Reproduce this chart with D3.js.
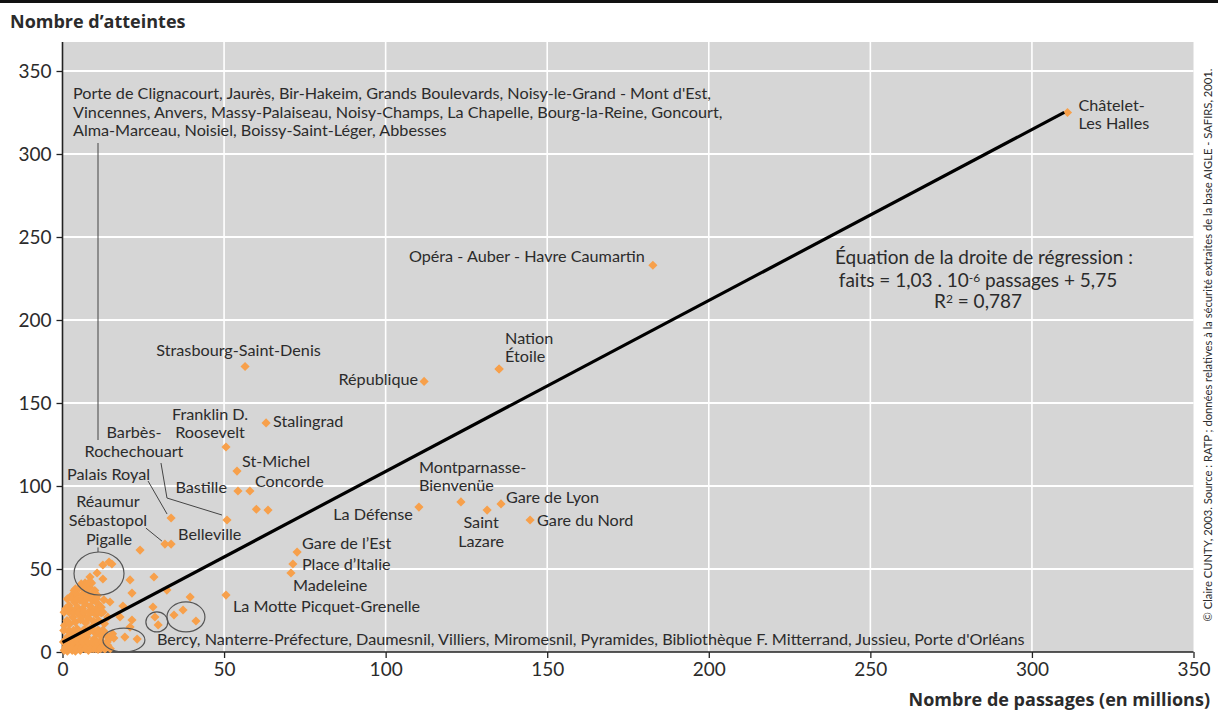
<!DOCTYPE html>
<html>
<head>
<meta charset="utf-8">
<script src="https://cdn.jsdelivr.net/npm/d3@7"></script>
<style>
  html, body { margin: 0; padding: 0; background: #fff; }
  svg { display: block; font-family: "Lato", "Open Sans", sans-serif; }
</style>
</head>
<body>
<svg id="chart" width="1218" height="713"></svg>
<script>
// Stations RATP : nombre de passages annuels (millions) et nombre d'atteintes
const stationNames = [
  "Châtelet-Les Halles", "Opéra - Auber - Havre Caumartin", "Nation", "Étoile",
  "République", "Strasbourg-Saint-Denis", "Stalingrad", "Franklin D. Roosevelt",
  "St-Michel", "Bastille", "Concorde", "Barbès-Rochechouart", "Palais Royal",
  "Réaumur-Sébastopol", "Belleville", "La Défense", "Montparnasse-Bienvenüe",
  "Saint-Lazare", "Gare de Lyon", "Gare du Nord", "Gare de l'Est",
  "Place d'Italie", "Madeleine", "La Motte-Picquet-Grenelle"
];
const stationPassages = [
  311, 182.7, 135.1, 135.1,
  111.9, 56.5, 63, 50.6,
  54, 54.3, 58, 50.9, 33.6,
  31.7, 33.6, 110.3, 123.3,
  131.4, 135.7, 144.7, 72.6,
  71.3, 70.7, 50.6
];
const stationAtteintes = [
  325, 233, 170.5, 170.5,
  163, 172, 138, 123.5,
  109, 97, 97, 79.5, 80.7,
  65, 65, 87.3, 90.4,
  85.5, 89.2, 79.5, 60.2,
  53, 47.6, 34.3
];

// Autres stations (non nommées individuellement)
const otherPassages = [
  60, 63.6, 24, 20.9, 28.3, 21.5, 39.5, 32.3, 14.7, 28, 28.6, 29.6, 34.5, 37.3, 41.3,
  15.9, 19.3, 23.1, 21.5, 20.9, 17.8, 18.7, 12.5, 14.4, 15.3, 10.7, 8.5, 12.5, 7,
  0.5, 1, 1.5, 2, 2.5, 3, 3.5, 4, 4.5, 5, 5.5, 6, 6.5, 7, 7.5, 8, 8.5, 9, 9.5, 10, 11, 11.5, 12, 13, 14,
  0.8, 1.5, 2.2, 3, 3.8, 4.5, 5.2, 6, 6.8, 7.5, 8.2, 9, 9.8, 10.5, 11.2, 12, 12.8, 13.5, 14.5, 15.5,
  0.6, 1.4, 2.3, 3.2, 4, 4.8, 5.6, 6.4, 7.2, 8, 8.8, 9.6, 10.4, 11.2, 12, 13, 14,
  1, 2, 3, 3.8, 4.6, 5.4, 6.2, 7, 7.8, 8.6, 9.4, 10.2, 11, 12, 12.8,
  2.8, 3.6, 4.4, 5.2, 6, 6.8, 7.6, 8.4, 9.2, 10, 10.8, 5.8, 7.2, 9,
  1.2, 2.8, 4.2, 5.8, 7.2, 8.8, 10.2, 11.8, 13.2, 14.8,
  0.3, 1.8, 3.3, 4.8, 6.3, 7.8, 9.3, 10.8, 12.3, 13.8,
  0.4, 1.9, 3.4, 4.9, 6.4, 7.9, 9.4, 10.9, 12.4,
  0.5, 2, 3.5, 5, 6.5, 8, 9.5, 11, 12.5,
  1.5, 3, 4.5, 6, 7.5, 9, 10.5, 4, 6.5, 8.5
];
const otherAtteintes = [
  86, 85.5, 61.4, 43.4, 45.2, 35.5, 33.1, 37.3, 30.1, 27.1, 21.1, 16.3, 22.3, 25.3, 18.7,
  8.4, 9, 7.8, 19.3, 15, 21.1, 27.7, 52.4, 54.2, 53, 47.6, 45.2, 44, 41.6,
  1, 3, 0.5, 2, 5, 1, 3.5, 0.5, 2.5, 4, 1, 3, 6, 2, 4.5, 1, 3, 5.5, 2, 4, 1.5, 6, 3, 2, 4,
  7, 9, 12, 8, 10.5, 14, 8.5, 11, 13.5, 9, 12, 15, 8, 11, 13, 9.5, 12.5, 10, 8, 11,
  16, 19, 17, 21, 18, 23, 19.5, 22, 17.5, 20.5, 24, 18.5, 22.5, 19, 23.5, 17, 21,
  26, 28, 25, 30, 27, 31, 26, 29, 33, 27.5, 31, 25.5, 29, 27, 31.5,
  34, 37, 35, 38.5, 34.5, 37.5, 36, 39, 35, 37, 34, 41, 40.5, 41.5,
  2, 2, 2, 2, 2, 2, 2, 2, 2, 2,
  6, 6, 6, 6, 6, 6, 6, 6, 6, 6,
  13, 13, 13, 13, 13, 13, 13, 13, 13,
  24, 24, 24, 24, 24, 24, 24, 24, 24,
  32, 32, 32, 32, 32, 32, 32, 38, 39, 42.5
];

// Droite de régression : faits = 1,03 . 10^-6 passages + 5,75
const regSlope = 1.03;
const regIntercept = 5.75;
const regExtent = [0, 310];

const xTicks = [0, 50, 100, 150, 200, 250, 300, 350];
const yTicks = [0, 50, 100, 150, 200, 250, 300, 350];

const groupTopLines = [
  "Porte de Clignacourt, Jaurès, Bir-Hakeim, Grands Boulevards, Noisy-le-Grand - Mont d'Est,",
  "Vincennes, Anvers, Massy-Palaiseau, Noisy-Champs, La Chapelle, Bourg-la-Reine, Goncourt,",
  "Alma-Marceau, Noisiel, Boissy-Saint-Léger, Abbesses"
];
const groupBottomText = "Bercy, Nanterre-Préfecture, Daumesnil, Villiers, Miromesnil, Pyramides, Bibliothèque F. Mitterrand, Jussieu, Porte d'Orléans";
const equationLines = ["Équation de la droite de régression :", "faits = 1,03 . 10", "-6", " passages + 5,75", "R", "2", " = 0,787"];
const yTitle = "Nombre d’atteintes";
const xTitle = "Nombre de passages (en millions)";
const sourceText = "© Claire CUNTY, 2003. Source : RATP ; données relatives à la sécurité extraites de la base AIGLE - SAFIRS, 2001.";

// ---------- mise en page ----------
const svg = d3.select("#chart");
const textColor = "#2b2b2b";
const orange = "#f7a04b";
const fs = 16.2, lh = 18.5;

const x = d3.scaleLinear().domain([0, 350]).range([62.5, 1193.5]);
const y = d3.scaleLinear().domain([0, 350]).range([652, 71]);
const plotTop = 42;

// filet noir en haut
svg.append("rect").attr("x", 0).attr("y", 0).attr("width", 1218).attr("height", 3).attr("fill", "#111");

// fond gris
svg.append("rect")
  .attr("x", x(0)).attr("y", plotTop)
  .attr("width", x(350) - x(0)).attr("height", y(0) - plotTop)
  .attr("fill", "#d6d6d6");

// grille
svg.append("g").selectAll("line").data(xTicks.filter(d => d > 0 && d < 350)).join("line")
  .attr("x1", d => x(d)).attr("x2", d => x(d))
  .attr("y1", plotTop).attr("y2", y(0))
  .attr("stroke", "#fff").attr("stroke-width", 1.6);
svg.append("g").selectAll("line").data(yTicks.filter(d => d > 0)).join("line")
  .attr("x1", x(0)).attr("x2", x(350))
  .attr("y1", d => y(d)).attr("y2", d => y(d))
  .attr("stroke", "#fff").attr("stroke-width", 2.2);

// axes
const xAxis = svg.append("g").attr("transform", `translate(0,${y(0)})`)
  .call(d3.axisBottom(x).tickValues(xTicks).tickSize(6).tickPadding(5).tickSizeOuter(0));
const yAxis = svg.append("g").attr("transform", `translate(${x(0)},0)`)
  .call(d3.axisLeft(y).tickValues(yTicks).tickSize(6).tickPadding(5).tickSizeOuter(0));
[xAxis, yAxis].forEach(a => {
  a.select(".domain").remove();
  a.selectAll("line").attr("stroke", "#222").attr("stroke-width", 1.3);
  a.selectAll("text").attr("fill", textColor).attr("font-size", 19).attr("font-family", "Lato, sans-serif");
});
svg.append("line").attr("x1", x(0)).attr("x2", x(0)).attr("y1", plotTop).attr("y2", y(0) + 1)
  .attr("stroke", "#222").attr("stroke-width", 1.6);
svg.append("line").attr("x1", x(0) - 1).attr("x2", x(350)).attr("y1", y(0)).attr("y2", y(0))
  .attr("stroke", "#222").attr("stroke-width", 1.6);

// titres d'axes
svg.append("text").attr("x", 10).attr("y", 28).text(yTitle)
  .attr("font-family", "'Open Sans', sans-serif")
  .attr("font-weight", "bold").attr("font-size", 18).attr("fill", textColor);
svg.append("text").attr("x", 1210).attr("y", 706).attr("text-anchor", "end").text(xTitle)
  .attr("font-family", "'Open Sans', sans-serif")
  .attr("font-weight", "bold").attr("font-size", 18).attr("fill", textColor);

// source verticale
svg.append("text")
  .attr("transform", "translate(1212,345) rotate(-90)")
  .attr("text-anchor", "middle")
  .attr("font-size", 12).attr("fill", textColor)
  .attr("textLength", 553).attr("lengthAdjust", "spacingAndGlyphs")
  .text(sourceText);

// points
const diamond = d3.symbol().type(d3.symbolSquare).size(42);
const others = otherPassages.map((p, i) => ({ p, a: otherAtteintes[i] }));
const named = stationNames.map((n, i) => ({ name: n, p: stationPassages[i], a: stationAtteintes[i] }));
svg.append("g").selectAll("path").data(others.concat(named)).join("path")
  .attr("d", diamond)
  .attr("transform", d => `translate(${x(d.p)},${y(d.a)}) rotate(45)`)
  .attr("fill", orange);

// droite de régression
svg.append("line")
  .attr("x1", x(regExtent[0])).attr("y1", y(regSlope * regExtent[0] + regIntercept))
  .attr("x2", x(regExtent[1])).attr("y2", y(regSlope * regExtent[1] + regIntercept))
  .attr("stroke", "#000").attr("stroke-width", 3.2);

// anneaux de regroupement (centre en données, rayons en pixels)
const rings = [
  { p: 11.3, a: 47.3, rx: 25, ry: 21.5 },
  { p: 29.2, a: 18.1, rx: 11, ry: 10 },
  { p: 38.2, a: 21.1, rx: 19, ry: 15 },
  { p: 19, a: 7.2, rx: 21, ry: 12 }
];
svg.append("g").selectAll("ellipse").data(rings).join("ellipse")
  .attr("cx", d => x(d.p)).attr("cy", d => y(d.a))
  .attr("rx", d => d.rx).attr("ry", d => d.ry)
  .attr("fill", "none").attr("stroke", "#555").attr("stroke-width", 1.2);

// étiquettes des stations
const layout = {
  "Châtelet-Les Halles": { lines: ["Châtelet-", "Les Halles"], dx: 11, dy: -2 },
  "Opéra - Auber - Havre Caumartin": { lines: ["Opéra - Auber - Havre Caumartin"], dx: -8, dy: -3, anchor: "end" },
  "Nation": { lines: ["Nation"], dx: 6, dy: -25 },
  "Étoile": { lines: ["Étoile"], dx: 6, dy: -6.5 },
  "République": { lines: ["République"], dx: -6, dy: 4, anchor: "end" },
  "Strasbourg-Saint-Denis": { lines: ["Strasbourg-Saint-Denis"], dx: -6.5, dy: -10, anchor: "middle" },
  "Stalingrad": { lines: ["Stalingrad"], dx: 7, dy: 4 },
  "Franklin D. Roosevelt": { lines: ["Franklin D.", "Roosevelt"], dx: -16, dy: -27, anchor: "middle" },
  "St-Michel": { lines: ["St-Michel"], dx: 5, dy: -4 },
  "Concorde": { lines: ["Concorde"], dx: 5, dy: -4 },
  "Bastille": { lines: ["Bastille"], dx: -11, dy: 2, anchor: "end" },
  "Barbès-Rochechouart": { lines: ["Barbès-", "Rochechouart"], dx: -93, dy: -82, anchor: "middle",
    leader: [[-66, -57], [-60, -22], [-5, -5]] },
  "Palais Royal": { lines: ["Palais Royal"], dx: -21, dy: -38, anchor: "end",
    leader: [[-23, -37], [-4, -4]] },
  "Réaumur-Sébastopol": { lines: ["Réaumur", "Sébastopol"], dx: -57, dy: -37, anchor: "middle",
    leader: [[-19, -16], [-3, -3]] },
  "Belleville": { lines: ["Belleville"], dx: 7, dy: -4 },
  "La Défense": { lines: ["La Défense"], dx: -6, dy: 13, anchor: "end" },
  "Montparnasse-Bienvenüe": { lines: ["Montparnasse-", "Bienvenüe"], dx: -42, dy: -29 },
  "Saint-Lazare": { lines: ["Saint", "Lazare"], dx: -6, dy: 18, anchor: "middle" },
  "Gare de Lyon": { lines: ["Gare de Lyon"], dx: 5, dy: -1 },
  "Gare du Nord": { lines: ["Gare du Nord"], dx: 7, dy: 6 },
  "Gare de l'Est": { lines: ["Gare de l’Est"], dx: 5, dy: -3 },
  "Place d'Italie": { lines: ["Place d’Italie"], dx: 9, dy: 6 },
  "Madeleine": { lines: ["Madeleine"], dx: 2, dy: 18 },
  "La Motte-Picquet-Grenelle": { lines: ["La Motte Picquet-Grenelle"], dx: 7, dy: 17 }
};

const labels = svg.append("g").attr("font-size", fs).attr("fill", textColor);
const leaders = svg.append("g").attr("stroke", "#444").attr("stroke-width", 1).attr("fill", "none");
named.forEach(d => {
  const L = layout[d.name];
  if (!L) return;
  const px = x(d.p), py = y(d.a);
  const t = labels.append("text").attr("text-anchor", L.anchor || "start");
  L.lines.forEach((ln, i) => {
    t.append("tspan").attr("x", px + L.dx).attr("y", py + L.dy + i * lh).text(ln);
  });
  if (L.leader) {
    leaders.append("path").attr("d", d3.line()(L.leader.map(o => [px + o[0], py + o[1]])));
  }
});

// groupe du haut (stations du nuage près de l'origine)
const gTop = labels.append("text");
groupTopLines.forEach((ln, i) => {
  gTop.append("tspan").attr("x", x(3.25)).attr("y", 99 + i * lh).text(ln);
});
leaders.append("line").attr("x1", 98).attr("x2", 98).attr("y1", 143).attr("y2", 440);

// Pigalle
const pig = rings[0];
labels.append("text").attr("text-anchor", "middle")
  .attr("x", x(pig.p) + 10).attr("y", y(pig.a) - 28).text("Pigalle");
leaders.append("line").attr("x1", x(pig.p) - 1).attr("x2", x(pig.p) - 1)
  .attr("y1", y(pig.a) - 26).attr("y2", y(pig.a) - pig.ry);

// groupe du bas
const bercy = rings[3];
labels.append("text").attr("x", x(bercy.p) + 33).attr("y", y(bercy.a) + 5).text(groupBottomText);

// équation (un seul bloc de texte, trois lignes)
const eq = svg.append("text").attr("font-size", 19).attr("fill", textColor).attr("text-anchor", "middle");
eq.append("tspan").attr("x", 984).attr("y", 264).text(equationLines[0]);
eq.append("tspan").attr("x", 978).attr("y", 287).text(equationLines[1]);
eq.append("tspan").attr("font-size", 12).attr("dy", -5).text(equationLines[2]);
eq.append("tspan").attr("dy", 5).text(equationLines[3]);
eq.append("tspan").attr("x", 978).attr("y", 308).text(equationLines[4]);
eq.append("tspan").attr("font-size", 12).attr("dy", -5).text(equationLines[5]);
eq.append("tspan").attr("dy", 5).text(equationLines[6]);
</script>
</body>
</html>
